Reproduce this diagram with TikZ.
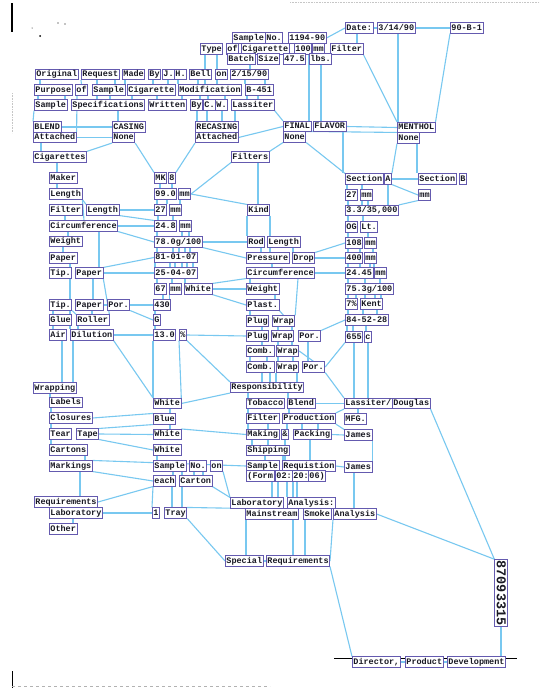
\documentclass[tikz,border=0pt]{standalone}
\usepackage{fontspec}
\newfontfamily\tw{Liberation Mono}
\pgfdeclarelayer{bg}
\pgfsetlayers{bg,main}
\definecolor{boxc}{RGB}{100,90,175}
\definecolor{linec}{RGB}{120,200,240}
\definecolor{txtc}{RGB}{25,25,35}
\tikzset{
 w/.style={draw=boxc, fill=white, line width=0.8pt, text=txtc, font=\tw\bfseries\fontsize{8.5}{9}\selectfont, inner xsep=1pt, inner ysep=1pt, text height=6.3pt, text depth=2pt, anchor=west},
 cn/.style={draw=linec, line width=1.1pt},
}
\newcommand\vd[3]{\draw[cn] ([xshift=#3pt]#1.south west) -- ([xshift=#3pt]#1.south west |- #2.north);}
\newcommand\W[4]{\node[w] (#1) at (#2,#3) {#4};}
\begin{document}
\begin{tikzpicture}[x=1pt,y=-1pt]
\useasboundingbox (0,0) rectangle (540,688);
% top
\W{date}{345}{28}{Date:}
\W{dA}{377}{28}{3/14/90}
\W{bnum}{450}{28}{90-B-1}
\W{smA}{232}{38}{Sample}
\W{noA}{265}{38}{No.}
\W{nA}{288}{38}{1194-90}
\W{type}{200}{49}{Type}
\W{ofA}{226}{49}{of}
\W{cigA}{241}{49}{Cigarette}
\W{hund}{294}{49}{100}
\W{mmTop}{312}{49}{mm}
\W{filtA}{330}{49}{Filter}
\W{batch}{227}{59}{Batch}
\W{size}{257}{59}{Size}
\W{wt}{283}{59}{47.5}
\W{lbs}{309}{59}{lbs.}
% row1
\W{orig}{35}{74.5}{Original}
\W{req}{81}{74.5}{Request}
\W{made}{122}{74.5}{Made}
\W{byA}{148}{74.5}{By}
\W{jj}{162}{74.5}{J.}
\W{hh}{174}{74.5}{H.}
\W{bell}{189}{74.5}{Bell}
\W{onA}{215}{74.5}{on}
\W{dB}{230}{74.5}{2/15/90}
% row2
\W{purp}{34}{90}{Purpose}
\W{ofB}{75}{90}{of}
\W{smB}{92}{90}{Sample}
\W{cigB}{127}{90}{Cigarette}
\W{modif}{178}{90}{Modification}
\W{bfour}{245}{90}{B-451}
% row3
\W{smC}{34}{105}{Sample}
\W{spec}{71}{105}{Specifications}
\W{writ}{148}{105}{Written}
\W{byC}{190}{105}{By}
\W{cc}{203}{105}{C.}
\W{ww}{215}{105}{W.}
\W{lassC}{231}{105}{Lassiter}
% row4
\W{blend}{33}{127}{BLEND}
\W{att1}{33}{137.5}{Attached}
\W{casing}{112}{127}{CASING}
\W{none1}{112}{137.5}{None}
\W{recas}{195}{127}{RECASING}
\W{att2}{195}{137.5}{Attached}
\W{final}{283}{126.5}{FINAL}
\W{flavor}{313}{126.5}{FLAVOR}
\W{none2}{283}{137}{None}
\W{menthol}{397}{127.5}{MENTHOL}
\W{none3}{397}{138}{None}
\W{cigs}{33}{157}{Cigarettes}
\W{filters}{231}{157}{Filters}
% left column
\W{maker}{49}{178}{Maker}
\W{lenA}{49}{194}{Length}
\W{filtB}{49}{210}{Filter}
\W{lenB}{86}{210}{Length}
\W{circA}{49}{226}{Circumference}
\W{wtA}{49}{241.5}{Weight}
\W{papA}{49}{258}{Paper}
\W{tipA}{49}{273}{Tip.}
\W{papB}{75}{273}{Paper}
\W{tipB}{49}{305}{Tip.}
\W{papC}{75}{305}{Paper}
\W{porA}{107}{305}{Por.}
\W{glue}{49}{320}{Glue}
\W{roller}{76}{320}{Roller}
\W{air}{49}{335}{Air}
\W{dil}{70}{335}{Dilution}
% middle column
\W{mk}{154}{178}{MK}
\W{eight}{168}{178}{8}
\W{v990}{154}{194}{99.0}
\W{mm99}{178}{194}{mm}
\W{v27}{154}{210}{27}
\W{mm27}{169}{210}{mm}
\W{v248}{154}{226}{24.8}
\W{mm248}{179}{226}{mm}
\W{v780}{154}{242}{78.0g/100}
\W{v810}{154}{257.5}{81-01-07}
\W{v250}{154}{273}{25-04-07}
\W{v67}{154}{289}{67}
\W{mm67}{169}{289}{mm}
\W{white0}{184}{289}{White}
\W{v430}{153}{305}{430}
\W{gg}{153}{320}{G}
\W{v130}{153}{335}{13.0}
\W{pct}{179}{335}{\%}
% right-middle
\W{kind}{247}{210}{Kind}
\W{rod}{247}{242}{Rod}
\W{lenC}{267}{242}{Length}
\W{press}{246}{258}{Pressure}
\W{drop}{292}{258}{Drop}
\W{circB}{246}{273}{Circumference}
\W{wtB}{246}{289}{Weight}
\W{plast}{246}{305}{Plast.}
\W{plugA}{246}{321}{Plug}
\W{wrapA}{272}{321}{Wrap}
\W{plugB}{246}{336}{Plug}
\W{wrapB}{271}{336}{Wrap}
\W{porB}{298}{336}{Por.}
\W{combA}{246}{351}{Comb.}
\W{wrapC}{276}{351}{Wrap}
\W{combB}{246}{367}{Comb.}
\W{wrapD}{276}{367}{Wrap}
\W{porC}{302}{367}{Por.}
\W{resp}{230}{387.5}{Responsibility}
% right column
\W{sect}{345}{179}{Section}
\W{aa}{384}{179}{A}
\W{sectb}{418}{179}{Section}
\W{bb}{459}{179}{B}
\W{mmSB}{418}{195}{mm}
\W{rA27}{345}{195}{27}
\W{mmR27}{360}{195}{mm}
\W{r33}{345}{210.5}{3.3/35,000}
\W{og}{345}{227}{OG}
\W{lt}{360}{227}{Lt.}
\W{r108}{345}{243}{108}
\W{mmR108}{364}{243}{mm}
\W{r400}{345}{258}{400}
\W{mmR400}{364}{258}{mm}
\W{r2445}{345}{273}{24.45}
\W{mmR2445}{374}{273}{mm}
\W{r753}{345}{289}{75.3g/100}
\W{rs}{345}{304}{7\%}
\W{kent}{360}{304}{Kent}
\W{r84}{345}{320}{84-52-28}
\W{r655}{345}{337}{655}
\W{ctwo}{364}{337}{c}
% lower left
\W{wrapping}{33}{388}{Wrapping}
\W{labels}{49}{402.5}{Labels}
\W{closures}{49}{418}{Closures}
\W{tear}{49}{434}{Tear}
\W{tape}{76}{434}{Tape}
\W{cartons}{49}{450}{Cartons}
\W{markings}{49}{466}{Markings}
\W{reqs1}{34}{502}{Requirements}
\W{labA}{49}{513}{Laboratory}
\W{other}{49}{529}{Other}
% lower middle
\W{white1}{153}{403.5}{White}
\W{blue}{153}{419}{Blue}
\W{white2}{153}{434.5}{White}
\W{white3}{153}{450}{White}
\W{smD}{153}{466}{Sample}
\W{noB}{189}{466}{No.}
\W{onB}{210}{466}{on}
\W{each}{153}{481}{each}
\W{carton}{179}{481}{Carton}
\W{one}{152}{513}{1}
\W{tray}{164}{513}{Tray}
% lower right
\W{tobacco}{246}{403.5}{Tobacco}
\W{blendb}{287}{403.5}{Blend}
\W{filtC}{246}{418.5}{Filter}
\W{prod}{282}{418.5}{Production}
\W{making}{246}{434.5}{Making}
\W{amp}{281}{434.5}{\&}
\W{packing}{293}{434.5}{Packing}
\W{shipping}{246}{450.5}{Shipping}
\W{smE}{246}{466}{Sample}
\W{requis}{282}{466}{Requistion}
\W{form}{246}{476}{(Form}
\W{ftwo}{275}{476}{02:}
\W{ftw}{292}{476}{20:}
\W{fsix}{308}{476}{06)}
\W{labB}{230}{503}{Laboratory}
\W{anlA}{287}{503}{Analysis:}
\W{mainst}{245}{514}{Mainstream}
\W{smoke}{303}{514}{Smoke}
\W{anal2}{333}{514}{Analysis}
\W{special}{225}{561}{Special}
\W{reqs2}{266}{561}{Requirements}
\W{lassiter}{344}{403.5}{Lassiter/}
\W{douglas}{392}{403.5}{Douglas}
\W{mfg}{344}{419}{MFG.}
\W{jamesA}{344}{435}{James}
\W{jamesB}{344}{467}{James}
\node[w, anchor=center, rotate=-90, font=\tw\bfseries\fontsize{13.5}{14}\selectfont, text height=9.5pt, text depth=1pt] (num) at (501,593) {87093315};
\W{director}{352}{662}{Director,}
\W{product}{405}{662}{Product}
\W{develop}{447}{662}{Development}

\begin{pgfonlayer}{bg}
\fill[white] (0,0) rectangle (540,688);
% scan marks
\draw[black, line width=1.6pt] (12,3) -- (12,32);
\draw[black, line width=1pt] (12,671) -- (12,688);
\draw[gray!60, dashed, line width=0.6pt] (12,686) -- (270,686);
\draw[gray!45, densely dotted, line width=0.6pt] (290,2) -- (540,2);
\draw[gray!45, densely dotted, line width=0.6pt] (12,93) -- (12,133);
\fill[black] (40,36) circle (1);
\fill[black] (58,23) circle (0.7);
\fill[black] (65,24) circle (0.6);
\fill[black] (32,28) circle (0.5);
\draw[black, line width=0.8pt] (334,658) -- (517,658);
% top
\draw[cn] (nA.east) -- (date.west);
\draw[cn] (date.east) -- (dA.west);
\draw[cn] (dA.east) -- (bnum.west);
\vd{date}{filtA}{12}
\draw[cn] (filtA.south east) -- (menthol.north west);
\vd{dA}{menthol}{21}
\draw[cn] (bnum.south west) -- (menthol.north east);
\vd{hund}{final}{15}
\vd{lbs}{flavor}{12}
\draw[cn] (flavor.east) -- (menthol.west);
\draw[cn] (none2.north east) -- (none3.north west);
\vd{flavor}{sect}{30}
\draw[cn] (none2.south east) -- (sect.north west);
\draw[cn] (none3.south west) -- (aa.north east);
\vd{none3}{sectb}{20}
\draw[cn] (lassC.south east) -- (final.north west);
\draw[cn] (att2.east) -- (final.west);
\draw[cn] (filters.north east) -- (none2.south west);
\vd{type}{modif}{5}
\vd{type}{onA}{17}
\vd{batch}{dB}{23}
% row1 -> row2
\vd{orig}{purp}{5}
\draw[cn] (req.south west) -- (ofB.north);
\vd{req}{smB}{16}
\vd{req}{smB}{34}
\vd{made}{cigB}{3}
\vd{byA}{cigB}{5}
\vd{jj}{cigB}{6}
\vd{hh}{modif}{4}
\vd{bell}{modif}{9}
\vd{onA}{modif}{2}
\vd{dB}{bfour}{15}
\vd{dB}{bfour}{35}
% row2 -> row3
\vd{purp}{smC}{4}
\vd{purp}{smC}{31}
\draw[cn] ([xshift=2pt]ofB.south west) -- (att1.north east);
\vd{smB}{spec}{5}
\vd{smB}{spec}{18}
\vd{cigB}{spec}{5}
\vd{cigB}{writ}{30}
\vd{modif}{writ}{4}
\vd{modif}{byC}{22}
\vd{modif}{cc}{30}
\vd{modif}{ww}{47}
\vd{bfour}{lassC}{2}
\vd{bfour}{lassC}{13}
% row3 -> row4
\draw[cn] (smC.south west) -- (blend.north west);
\vd{spec}{casing}{47}
\vd{byC}{recas}{7}
\vd{cc}{recas}{4}
\vd{ww}{recas}{7}
\vd{lassC}{recas}{4}
\draw[cn] (blend.east) -- (casing.west);
\draw[cn] (att1.east) -- (none1.west);
\vd{att1}{cigs}{8}
\draw[cn] (none1.south west) -- (cigs.north east);
\draw[cn] (none1.south east) -- (mk.north west);
\draw[cn] (att2.south west) -- (eight.north east);
\vd{cigs}{maker}{24}
\vd{filters}{kind}{27}
\draw[cn] (filters.south west) -- (mm99.east);
% left column
\vd{maker}{lenA}{8}
\draw[cn] (lenA.south east) -- (lenB.north west);
\draw[cn] (lenA.south east) -- ([xshift=35pt]circA.north west);
\vd{filtB}{circA}{16}
\vd{circA}{wtA}{19}
\vd{wtA}{papA}{14}
\draw[cn] ([xshift=21pt]papA.south west) -- (dil.north west);
\vd{circA}{papB}{50}
\vd{papB}{papC}{18}
\draw[cn] (papB.south east) -- (roller.north east);
\vd{tipB}{glue}{4}
\vd{glue}{air}{4}
\draw[cn] (tipB.south east) -- (roller.north west);
\vd{papC}{roller}{17}
\vd{roller}{dil}{2}
\draw[cn] (papC.east) -- (porA.west);
\draw[cn] (porA.east) -- (v430.west);
\draw[cn] (porA.south east) -- (gg.west);
\draw[cn] (dil.east) -- (v130.west);
\vd{air}{wrapping}{13}
\vd{dil}{wrapping}{3}
\draw[cn] (dil.south east) -- (white1.north west);
\draw[cn] (lenB.east) -- (v27.west);
\draw[cn] (lenB.south east) -- (v248.north west);
\draw[cn] (circA.east) -- (v248.west);
\draw[cn] (circA.south east) -- (v780.west);
\draw[cn] (papB.north east) -- (v810.west);
\draw[cn] (papB.east) -- (v250.west);
% middle column
\vd{mk}{v990}{6}
\vd{eight}{v990}{4}
\vd{v990}{v27}{3}
\vd{v990}{v27}{13}
\vd{mm99}{mm27}{2}
\vd{v27}{v248}{4}
\vd{mm27}{v248}{4}
\vd{v248}{v780}{3}
\vd{mm248}{v780}{3}
\vd{mm248}{v780}{10}
\vd{v780}{v810}{3}
\vd{v780}{v810}{19}
\vd{v780}{v810}{25}
\vd{v780}{v810}{31}
\vd{v780}{v810}{36}
\vd{v810}{v250}{1}
\vd{v810}{v250}{16}
\vd{v810}{v250}{21}
\vd{v810}{v250}{28}
\vd{v810}{v250}{33}
\vd{v810}{v250}{39}
\vd{v250}{v67}{3}
\vd{v250}{mm67}{18}
\vd{v250}{white0}{31}
\vd{v67}{v430}{9}
\vd{mm67}{v430}{0.5}
\vd{v430}{gg}{2}
\vd{gg}{v130}{2}
\draw[cn] (v130.south west) -- (white1.north west);
\draw[cn] (pct.south west) -- (white1.north east);
\draw[cn] (pct.east) -- (plugB.west);
\draw[cn] (pct.south east) -- (resp.north west);
\draw[cn] (white1.east) -- (resp.south west);
\draw[cn] (mm99.east) -- (kind.north west);
\draw[cn] (v780.east) -- (rod.west);
\draw[cn] (v780.south east) -- (press.west);
\draw[cn] (white0.north east) -- (circB.south west);
\draw[cn] (white0.east) -- (wtB.west);
\draw[cn] (white0.south east) -- (plast.west);
% right-middle
\draw[cn] (kind.south west) -- (rod.north west);
\vd{kind}{lenC}{23}
\vd{rod}{press}{14}
\vd{lenC}{press}{3}
\vd{lenC}{drop}{26}
\vd{press}{circB}{26}
\vd{circB}{wtB}{4}
\draw[cn] ([xshift=52pt]circB.south west) -- (wrapA.north east);
\vd{wtB}{plast}{29}
\vd{plast}{plugA}{4}
\draw[cn] (plast.south east) -- (wrapA.north);
\vd{plugA}{plugB}{16}
\vd{wrapA}{wrapB}{6}
\vd{wrapA}{wrapB}{20}
\vd{plugB}{combA}{16}
\vd{wrapB}{wrapC}{7}
\vd{wrapB}{wrapC}{21}
\vd{combA}{combB}{4}
\vd{combA}{combB}{21}
\vd{wrapC}{wrapD}{2}
\vd{wrapC}{wrapD}{17}
\draw[cn] (wrapC.east) -- (porC.north);
\vd{porB}{porC}{10}
\vd{combB}{resp}{16}
\vd{combB}{resp}{24}
\vd{wrapD}{resp}{0}
\vd{wrapD}{resp}{21}
\draw[cn] (drop.north east) -- (r108.west);
\draw[cn] (drop.east) -- (r400.west);
\draw[cn] (circB.east) -- (r2445.west);
\draw[cn] (porB.north east) -- (r84.west);
\draw[cn] (r655.south west) -- (porC.east);
\draw[cn] (porC.south east) -- (lassiter.north west);
% right column
\vd{sect}{rA27}{2}
\vd{sect}{mmR27}{17}
\draw[cn] (aa.south) -- (aa.south |- r33.north);
\draw[cn] (aa.east) -- (sectb.west);
\draw[cn] (aa.south east) -- (mmSB.west);
\draw[cn] (r33.north east) -- (mmSB.south west);
\vd{rA27}{r33}{3}
\vd{mmR27}{r33}{2}
\vd{mmR27}{r33}{8}
\vd{r33}{og}{3}
\vd{r33}{lt}{18}
\vd{og}{r108}{3}
\vd{lt}{mmR108}{8}
\vd{r108}{r400}{3}
\vd{r108}{r400}{15}
\vd{mmR108}{mmR400}{9}
\vd{r400}{r2445}{3}
\vd{r400}{r2445}{15}
\vd{mmR400}{r2445}{6}
\vd{mmR400}{mmR2445}{10}
\vd{r2445}{r753}{3}
\vd{r2445}{r753}{20}
\vd{mmR2445}{r753}{6}
\vd{r753}{rs}{3}
\vd{r753}{rs}{11}
\vd{r753}{kent}{20}
\vd{r753}{kent}{30}
\vd{r753}{kent}{36}
\vd{rs}{r84}{3}
\vd{kent}{r84}{3}
\vd{kent}{r84}{17}
\vd{r84}{r655}{2}
\vd{r84}{r655}{8}
\vd{r84}{ctwo}{21}
\vd{r655}{lassiter}{9}
\draw[cn] (ctwo.south) -- (ctwo.south |- lassiter.north);
% lower right
\draw[cn] (blendb.east) -- (lassiter.west);
\draw[cn] (lassiter.south west) -- (prod.north east);
\draw[cn] (prod.south east) -- (jamesA.north west);
\draw[cn] (packing.east) -- (jamesA.west);
\vd{lassiter}{mfg}{14}
\draw[cn] (jamesA.south east) -- (jamesB.north east);
\draw[cn] (requis.east) -- (jamesB.west);
\vd{jamesB}{anal2}{10}
\draw[cn] (douglas.south east) -- (num.south west);
\draw[cn] (anal2.east) -- (num.south west);
\draw[cn] (num.east) -- (num.east |- develop.north);
\draw[cn] (director.east) -- (product.west);
\draw[cn] (product.east) -- (develop.west);
\draw[cn] (reqs2.south east) -- (director.north west);
\draw[cn] (anal2.south west) -- (reqs2.east);
\vd{mainst}{special}{1}
\vd{mainst}{reqs2}{48}
\vd{smoke}{reqs2}{2}
\draw[cn] (special.east) -- (reqs2.west);
\draw[cn] (tray.north east) -- (mainst.north west);
\draw[cn] (tray.south east) -- (special.west);
% lower left / middle
\vd{wrapping}{labels}{17}
\vd{labels}{closures}{2}
\vd{closures}{tear}{2}
\vd{tear}{cartons}{2}
\vd{cartons}{markings}{36}
\draw[cn] (closures.east) -- (blue.north west);
\draw[cn] (tape.north east) -- (blue.south west);
\draw[cn] (white2.north east) -- (making.west);
\draw[cn] (tape.east) -- (white2.west);
\draw[cn] (tape.south east) -- (white3.west);
\vd{white1}{blue}{17}
\vd{blue}{white2}{17}
\vd{white3}{smD}{4}
\draw[cn] (markings.north east) -- (smE.west);
\draw[cn] (markings.south east) -- (each.west);
\vd{markings}{reqs1}{31}
\draw[cn] (reqs1.east) -- (each.south west);
\draw[cn] (labA.east) -- (one.west);
\vd{labA}{other}{24}
\draw[cn] (each.south west) -- (one.north west);
\vd{smD}{each}{20}
\vd{smD}{carton}{29}
\vd{noB}{carton}{5}
\vd{noB}{carton}{14}
\vd{each}{tray}{19}
\vd{carton}{tray}{3}
\draw[cn] (carton.south east) -- (labB.north west);
\draw[cn] (onB.south east) -- (labB.north west);
\vd{resp}{tobacco}{18}
\vd{resp}{blendb}{58}
\vd{tobacco}{filtC}{2}
\vd{blendb}{prod}{2}
\vd{filtC}{making}{2}
\vd{filtC}{making}{22}
\vd{prod}{amp}{5}
\vd{prod}{packing}{20}
\vd{prod}{packing}{36}
\vd{making}{shipping}{6}
\vd{making}{shipping}{22}
\vd{amp}{requis}{4}
\vd{shipping}{smE}{19}
\vd{shipping}{requis}{37}
\vd{packing}{requis}{17}
\vd{form}{labB}{26}
\vd{ftwo}{labB}{3}
\vd{ftwo}{anlA}{12}
\vd{ftw}{anlA}{1}
\vd{ftw}{anlA}{5}
\end{pgfonlayer}
\end{tikzpicture}
\end{document}
